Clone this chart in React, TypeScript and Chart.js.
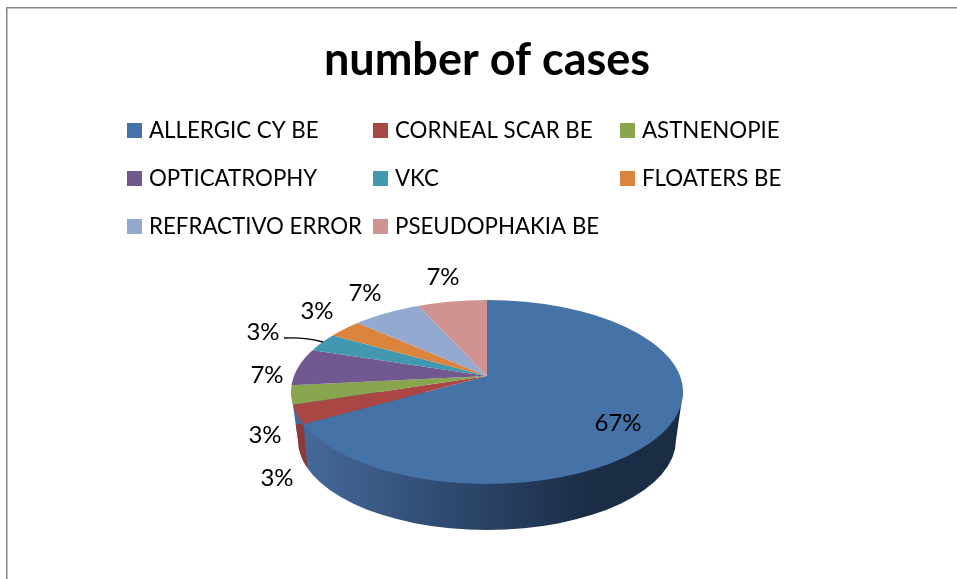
import React, { useEffect, useRef } from "react";
import { Chart, registerables } from "chart.js";

Chart.register(...registerables);

const categories = ["ALLERGIC CY BE", "CORNEAL SCAR BE", "ASTNENOPIE", "OPTICATROPHY", "VKC", "FLOATERS BE", "REFRACTIVO ERROR", "PSEUDOPHAKIA BE"];
const cases = [20, 1, 1, 2, 1, 1, 2, 2];
const colors = ["#4572A7", "#AA4643", "#89A54E", "#71588F", "#4198AF", "#DB843D", "#93A9CF", "#D19392"];

const FONT = "Lato, Carlito, Calibri, sans-serif";
const labelPositions = [[618, 423], [277, 478], [265, 435], [267, 375], [263, 332], [317, 311], [365, 293], [443, 277]];
const legendCols = [127, 373, 620];
const legendRows = [130.5, 178.5, 226.5];
const APEX = { x: 487, y: 376 };
const TOP = { cx: 487, cy: 392, rx: 196, ry: 92 };
const BOT = { cx: 487, cy: 440, rx: 189, ry: 90 };
const SQUASH = 0.455;

function rayHit(angle: number) {
  const dx = Math.cos(angle);
  const dy = Math.sin(angle) * SQUASH;
  const ox = (APEX.x - TOP.cx) / TOP.rx;
  const oy = (APEX.y - TOP.cy) / TOP.ry;
  const vx = dx / TOP.rx;
  const vy = dy / TOP.ry;
  const a = vx * vx + vy * vy;
  const b = 2 * (ox * vx + oy * vy);
  const c = ox * ox + oy * oy - 1;
  const t = (-b + Math.sqrt(b * b - 4 * a * c)) / (2 * a);
  return { x: APEX.x + dx * t, y: APEX.y + dy * t };
}

const pie3d = {
  id: "pie3d",
  beforeDatasetsDraw(chart: any) {
    const ctx = chart.ctx as CanvasRenderingContext2D;
    const arcs = chart.getDatasetMeta(0).data;
    const first = arcs[0];
    const sidePath = () => {
      ctx.beginPath();
      ctx.moveTo(TOP.cx + TOP.rx, TOP.cy);
      ctx.lineTo(BOT.cx + BOT.rx, BOT.cy);
      ctx.ellipse(BOT.cx, BOT.cy, BOT.rx, BOT.ry, 0, 0, Math.PI);
      ctx.lineTo(TOP.cx - TOP.rx, TOP.cy);
      ctx.closePath();
    };
    // extruded wall
    const grad = ctx.createLinearGradient(303, 0, 590, 0);
    grad.addColorStop(0, "#46699A");
    grad.addColorStop(0.5, "#2F4A70");
    grad.addColorStop(1, "#1B2D45");
    ctx.save();
    sidePath();
    ctx.fillStyle = grad;
    ctx.fill();
    sidePath();
    ctx.clip();
    const p = rayHit(first.endAngle);
    ctx.beginPath();
    ctx.moveTo(p.x, p.y);
    ctx.lineTo(p.x + 4, p.y + 45);
    ctx.lineTo(p.x - 40, p.y + 45);
    ctx.lineTo(p.x - 40, p.y);
    ctx.closePath();
    ctx.fillStyle = "#8C3937";
    ctx.fill();
    ctx.restore();

    // top face: the library's arcs, squashed around the apex and cut by the rim
    ctx.save();
    ctx.beginPath();
    ctx.ellipse(TOP.cx, TOP.cy, TOP.rx, TOP.ry, 0, 0, Math.PI * 2);
    ctx.clip();
    const s = 320 / first.outerRadius;
    ctx.translate(APEX.x, APEX.y);
    ctx.scale(s, s * SQUASH);
    ctx.translate(-first.x, -first.y);
  },
  afterDatasetsDraw(chart: any) {
    const ctx = chart.ctx as CanvasRenderingContext2D;
    ctx.restore();
    const total = cases.reduce((a, b) => a + b, 0);
    ctx.save();
    ctx.fillStyle = "#000";
    ctx.font = `24px ${FONT}`;
    ctx.textAlign = "center";
    ctx.textBaseline = "middle";
    cases.forEach((v, i) => {
      ctx.fillText(`${Math.round((v / total) * 100)}%`, labelPositions[i][0], labelPositions[i][1]);
    });
    // leader line
    ctx.strokeStyle = "#000";
    ctx.lineWidth = 1.4;
    ctx.beginPath();
    ctx.moveTo(284, 338);
    ctx.quadraticCurveTo(305, 337, 323, 342);
    ctx.stroke();
    // legend
    categories.forEach((name, i) => {
      const x = legendCols[i % 3];
      const y = legendRows[Math.floor(i / 3)];
      ctx.fillStyle = colors[i];
      ctx.fillRect(x, y - 7.5, 15, 15);
      ctx.fillStyle = "#000";
      ctx.textAlign = "left";
      ctx.font = `22.3px ${FONT}`;
      ctx.fillText(name, x + 22, y);
    });
    ctx.restore();
  },
  beforeDraw(chart: any) {
    const ctx = chart.ctx as CanvasRenderingContext2D;
    ctx.save();
    ctx.fillStyle = "#fff";
    ctx.fillRect(0, 0, chart.width, chart.height);
    ctx.strokeStyle = "#868686";
    ctx.lineWidth = 1.5;
    ctx.strokeRect(6.75, 7.75, 1200, 1200);
    ctx.restore();
  },
};

export default function App() {
  const ref = useRef<HTMLCanvasElement>(null);
  useEffect(() => {
    const chart = new Chart(ref.current!, {
      type: "pie",
      data: {
        labels: categories,
        datasets: [{ data: cases, backgroundColor: colors, borderWidth: 0, clip: false } as any],
      },
      options: {
        animation: false,
        responsive: false,
        rotation: 0,
        layout: { padding: { left: 17, right: 0, top: 0, bottom: 0 } },
        plugins: {
          legend: { display: false },
          tooltip: { enabled: false },
          title: {
            display: true,
            text: "number of cases",
            color: "#000",
            font: { family: FONT, size: 45, weight: "bold" },
            padding: { top: 33, bottom: 10 },
          },
        },
      },
      plugins: [pie3d],
    });
    return () => chart.destroy();
  }, []);
  return (
    <div style={{ position: "absolute", left: 0, top: 0, width: 957, height: 579, overflow: "hidden" }}>
      <canvas ref={ref} width={957} height={579} style={{ display: "block" }} />
    </div>
  );
}
